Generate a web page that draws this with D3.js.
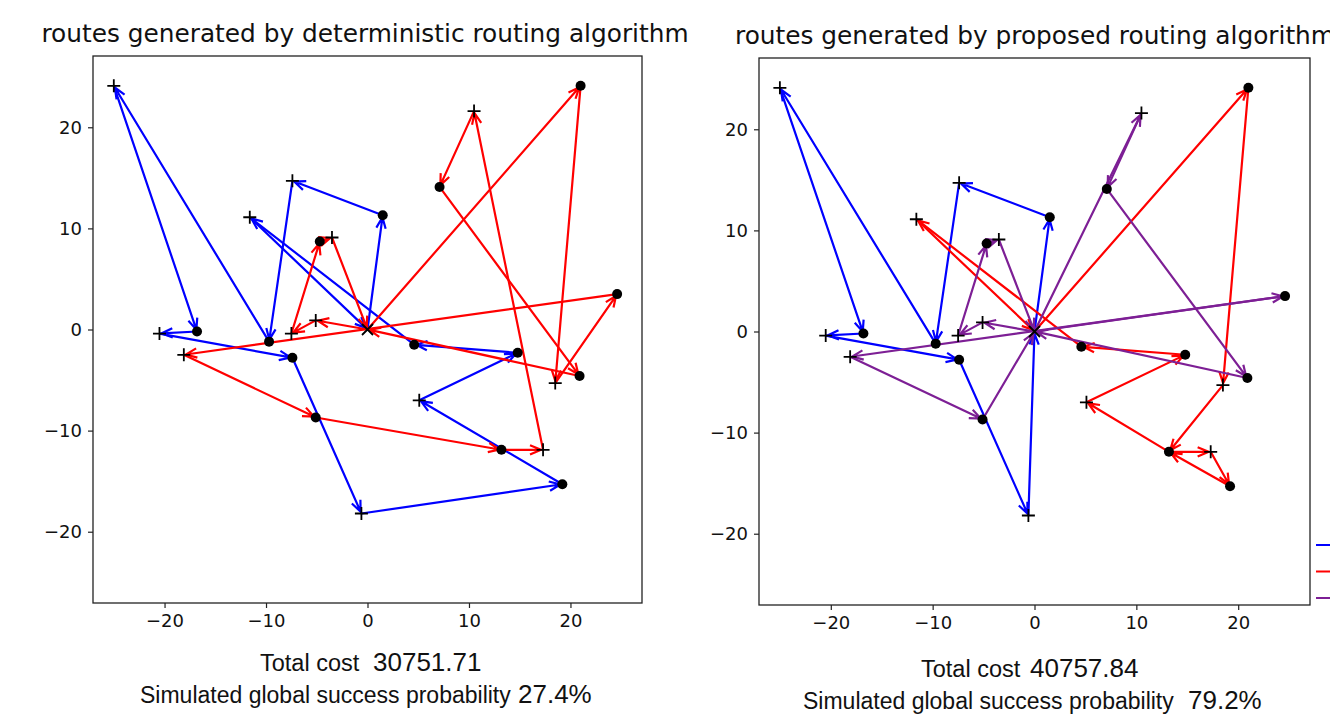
<!DOCTYPE html>
<html>
<head>
<meta charset="utf-8">
<script src="https://cdn.jsdelivr.net/npm/d3@7"></script>
<style>
  body { margin: 0; background: #fff; }
  svg { display: block; }
</style>
</head>
<body>
<svg id="chart" width="1330" height="714"></svg>
<script>
// node locations (same nodes in both panels)
const nodeNames = ["O", "A", "B", "C", "D", "E", "F", "G", "H", "I", "J", "K", "L", "M",
  "N", "P", "Q", "R", "S", "T", "U", "V", "W", "X", "Y", "Z", "AA", "AB"];
const nodeX = [0, -25.0, -16.8, -20.5, -9.7, -7.4, 1.5, -11.6, -4.7, -3.5, -5.1, -7.5, 4.6, 14.8,
  -18.1, -7.4, -5.1, -0.6, 19.2, 13.2, 17.3, 5.1, 18.5, 20.9, 24.6, 21.0, 10.5, 7.1];
const nodeY = [0, 24.1, -0.2, -0.4, -1.2, 14.7, 11.3, 11.1, 8.7, 9.1, 0.9, -0.4, -1.5, -2.3,
  -2.5, -2.8, -8.7, -18.2, -15.3, -11.9, -11.9, -7.0, -5.3, -4.6, 3.5, 24.1, 21.6, 14.1];
const nodeKind = ["x", "+", "o", "+", "o", "+", "o", "+", "o", "+", "+", "+", "o", "o",
  "+", "o", "o", "+", "o", "o", "+", "+", "+", "o", "o", "o", "+", "o"];

// routes, deterministic algorithm
const detBlue = ["O", "F", "E", "D", "A", "B", "C", "P", "R", "S", "V", "M", "L", "G", "O"];
const detRed = ["O", "Z", "W", "Y", "N", "Q", "T", "U", "AA", "AB", "X", "O", "J", "K", "H", "I", "O"];

// routes, proposed algorithm
const propBlue = ["O", "F", "E", "D", "A", "B", "C", "P", "R", "O"];
const propRed = ["O", "Z", "W", "T", "U", "S", "T", "V", "M", "L", "G", "O"];
const propPurple = ["O", "J", "K", "H", "I", "O", "AA", "AB", "X", "O", "Y", "N", "Q", "O"];

const tickValues = [-20, -10, 0, 10, 20];
const titles = ["routes generated by deterministic routing algorithm",
  "routes generated by proposed routing algorithm"];
const costs = ["30751.71", "40757.84"];
const successRates = ["27.4%", "79.2%"];

const BLUE = "#0000ff", RED = "#ff0000", PURPLE = "#7d1f95";

const nodes = new Map(nodeNames.map((n, i) => [n, { x: nodeX[i], y: nodeY[i], kind: nodeKind[i] }]));

const svg = d3.select("#chart");

const panels = [
  { box: [93, 642, 56, 603], routes: [[detBlue, BLUE], [detRed, RED]],
    title: [365, 42], cap1: [260, 373, 671], cap2: [140, 518, 703] },
  { box: [759, 1310, 58, 605], routes: [[propBlue, BLUE], [propRed, RED], [propPurple, PURPLE]],
    title: [1035, 44], cap1: [921, 1030, 677], cap2: [803, 1188, 709] }
];

function drawArrow(g, a, b, color, x, y) {
  const ax = x(a.x), ay = y(a.y), bx = x(b.x), by = y(b.y);
  const ang = Math.atan2(by - ay, bx - ax);
  const ex = bx - 2 * Math.cos(ang), ey = by - 2 * Math.sin(ang);
  const L = 12, spread = 0.4;
  const p = d3.path();
  p.moveTo(ax, ay);
  p.lineTo(ex, ey);
  p.moveTo(ex - L * Math.cos(ang - spread), ey - L * Math.sin(ang - spread));
  p.lineTo(ex, ey);
  p.lineTo(ex - L * Math.cos(ang + spread), ey - L * Math.sin(ang + spread));
  g.append("path")
    .attr("d", p.toString())
    .attr("fill", "none")
    .attr("stroke", color)
    .attr("stroke-width", 2.2)
    .attr("stroke-linejoin", "miter");
}

panels.forEach((pan, pi) => {
  const [x0, x1, y0, y1] = pan.box;
  const x = d3.scaleLinear().domain([-27.05, 27.05]).range([x0, x1]);
  const y = d3.scaleLinear().domain([-27.05, 27.05]).range([y1, y0]);

  const g = svg.append("g");

  // routes
  const rg = g.append("g");
  pan.routes.forEach(([route, color]) => {
    for (let i = 0; i < route.length - 1; i++) {
      drawArrow(rg, nodes.get(route[i]), nodes.get(route[i + 1]), color, x, y);
    }
  });

  // node markers
  const mg = g.append("g");
  nodes.forEach(n => {
    const cx = x(n.x), cy = y(n.y);
    if (n.kind === "o") {
      mg.append("circle").attr("cx", cx).attr("cy", cy).attr("r", 5).attr("fill", "#000");
    } else if (n.kind === "+") {
      mg.append("path")
        .attr("d", `M${cx - 6.5},${cy}H${cx + 6.5}M${cx},${cy - 6.5}V${cy + 6.5}`)
        .attr("stroke", "#000").attr("stroke-width", 1.8);
    } else {
      mg.append("path")
        .attr("d", `M${cx - 5.5},${cy - 5.5}L${cx + 5.5},${cy + 5.5}M${cx - 5.5},${cy + 5.5}L${cx + 5.5},${cy - 5.5}`)
        .attr("stroke", "#000").attr("stroke-width", 1.8);
    }
  });

  // frame
  g.append("rect")
    .attr("x", x0).attr("y", y0).attr("width", x1 - x0).attr("height", y1 - y0)
    .attr("fill", "none").attr("stroke", "#222").attr("stroke-width", 1.3);

  // axes
  const xAxis = g.append("g")
    .attr("transform", `translate(0,${y1})`)
    .call(d3.axisBottom(x).tickValues(tickValues).tickSize(5).tickPadding(6).tickSizeOuter(0));
  const yAxis = g.append("g")
    .attr("transform", `translate(${x0},0)`)
    .call(d3.axisLeft(y).tickValues(tickValues).tickSize(5).tickPadding(6).tickSizeOuter(0));
  [xAxis, yAxis].forEach(a => {
    a.select(".domain").remove();
    a.selectAll("line").attr("stroke", "#222").attr("stroke-width", 1.2);
    a.selectAll("text")
      .attr("fill", "#111")
      .style("font-family", "'DejaVu Sans', sans-serif")
      .style("font-size", "18px");
  });

  // title
  g.append("text")
    .attr("x", pan.title[0]).attr("y", pan.title[1])
    .attr("text-anchor", "middle")
    .style("font-family", "'DejaVu Sans', sans-serif")
    .style("font-size", "24.8px")
    .attr("fill", "#111")
    .text(titles[pi]);

  // captions
  const cap = (tx, ty, size, str) => g.append("text")
    .attr("x", tx).attr("y", ty)
    .style("font-family", "'Liberation Sans', Arial, sans-serif")
    .style("font-size", size + "px")
    .attr("fill", "#111")
    .text(str);
  cap(pan.cap1[0], pan.cap1[2], 23.5, "Total cost");
  cap(pan.cap1[1], pan.cap1[2], 26, costs[pi]);
  cap(pan.cap2[0], pan.cap2[2], 23, "Simulated global success probability");
  cap(pan.cap2[1], pan.cap2[2], 26, successRates[pi]);
});

// legend fragment at the right edge (cut off in the original)
const legendColors = [BLUE, RED, PURPLE];
const ly = d3.scalePoint().domain(d3.range(legendColors.length)).range([545, 598]);
svg.append("g").selectAll("line")
  .data(legendColors)
  .join("line")
  .attr("x1", 1316).attr("x2", 1332)
  .attr("y1", (d, i) => ly(i)).attr("y2", (d, i) => ly(i))
  .attr("stroke", d => d)
  .attr("stroke-width", 2);
</script>
</body>
</html>
